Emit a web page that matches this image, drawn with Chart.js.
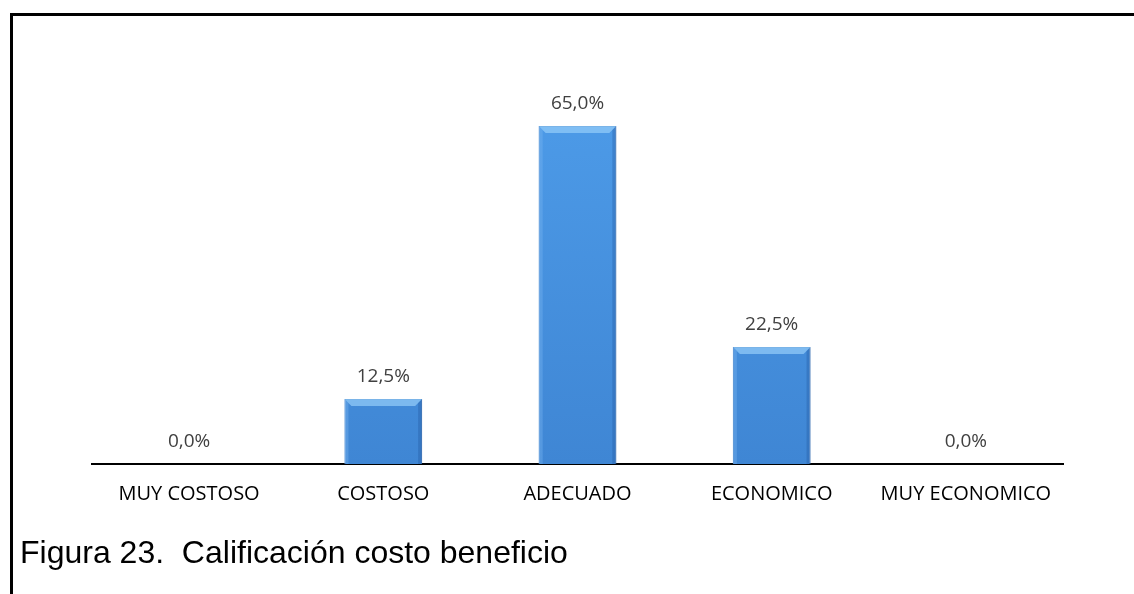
<!DOCTYPE html>
<html>
<head>
<meta charset="utf-8">
<script src="https://cdn.jsdelivr.net/npm/chart.js@4.4.1/dist/chart.umd.min.js"></script>
<style>
  html, body { margin: 0; padding: 0; background: #fff; }
  body { width: 1134px; height: 594px; position: relative; overflow: hidden; }
  #frameTop { position: absolute; left: 10px; top: 13px; width: 1124px; height: 3px; background: #000; }
  #frameLeft { position: absolute; left: 10px; top: 13px; width: 3px; height: 581px; background: #000; }
  #wrap { position: absolute; left: 0; top: 0; width: 1134px; height: 594px; }
  #caption { position: absolute; left: 20px; top: 534px; font-family: "Liberation Sans", Arial, sans-serif;
             font-size: 32px; line-height: 37px; color: #000; white-space: pre; }
</style>
</head>
<body>
<div id="wrap"><canvas id="chart"></canvas></div>
<div id="frameTop"></div>
<div id="frameLeft"></div>
<div id="caption">Figura 23.  Calificación costo beneficio</div>
<script>
var categorias = ['MUY COSTOSO', 'COSTOSO', 'ADECUADO', 'ECONOMICO', 'MUY ECONOMICO'];
var porcentajes = [0, 12.5, 65, 22.5, 0];

function fmt(v) {
    return v.toFixed(1).replace('.', ',') + '%';
}

// etiquetas de valor encima de cada barra
var valueLabels = {
    id: 'valueLabels',
    afterDatasetsDraw: function(chart) {
        var ctx = chart.ctx;
        var meta = chart.getDatasetMeta(0);
        ctx.save();
        ctx.font = '19px "Open Sans", sans-serif';
        ctx.fillStyle = '#404040';
        ctx.textAlign = 'center';
        ctx.textBaseline = 'alphabetic';
        meta.data.forEach(function(bar, i) {
            ctx.fillText(fmt(porcentajes[i]), bar.x, bar.y - 17);
        });
        ctx.restore();
    }
};

// bisel claro arriba y sombra en los lados de cada barra
var bevel = {
    id: 'bevel',
    afterDatasetsDraw: function(chart) {
        var ctx = chart.ctx;
        var meta = chart.getDatasetMeta(0);
        ctx.save();
        meta.data.forEach(function(bar) {
            var h = bar.base - bar.y;
            if (h < 1) return;
            var l = bar.x - bar.width / 2, r = bar.x + bar.width / 2, t = bar.y, b = bar.base;
            var d = 7;
            ctx.fillStyle = 'rgba(150,205,250,0.7)';
            ctx.beginPath();
            ctx.moveTo(l, t); ctx.lineTo(r, t); ctx.lineTo(r - d, t + d); ctx.lineTo(l + d, t + d);
            ctx.closePath(); ctx.fill();
            ctx.fillStyle = 'rgba(30,80,150,0.3)';
            ctx.beginPath();
            ctx.moveTo(r, t); ctx.lineTo(r, b); ctx.lineTo(r - 4, b); ctx.lineTo(r - 4, t + 4);
            ctx.closePath(); ctx.fill();
            ctx.fillStyle = 'rgba(120,180,240,0.4)';
            ctx.beginPath();
            ctx.moveTo(l, t); ctx.lineTo(l + 4, t + 4); ctx.lineTo(l + 4, b); ctx.lineTo(l, b);
            ctx.closePath(); ctx.fill();
        });
        ctx.restore();
    }
};

var ctx = document.getElementById('chart');
var myChart = new Chart(ctx, {
    type: 'bar',
    data: {
        labels: categorias,
        datasets: [{
            label: '',
            data: porcentajes,
            backgroundColor: function(c) {
                var area = c.chart.chartArea;
                if (!area) return '#4a90d9';
                var g = c.chart.ctx.createLinearGradient(0, area.top, 0, area.bottom);
                g.addColorStop(0, '#4d9be8');
                g.addColorStop(1, '#3f86d4');
                return g;
            },
            borderColor: '#3a78bf',
            borderWidth: 1,
            categoryPercentage: 1,
            barPercentage: 0.4
        }]
    },
    options: {
        responsive: true,
        maintainAspectRatio: false,
        animation: false,
        layout: {
            padding: { left: 92, right: 71, top: 100, bottom: 70 }
        },
        plugins: {
            legend: { display: false },
            tooltip: { enabled: false }
        },
        scales: {
            y: {
                display: false,
                min: 0,
                max: 70
            },
            x: {
                grid: { display: false, drawTicks: false },
                border: { display: true, color: '#000', width: 2 },
                ticks: {
                    color: '#000',
                    padding: 18,
                    font: { family: '"Open Sans", sans-serif', size: 20 }
                }
            }
        }
    },
    plugins: [bevel, valueLabels]
});
</script>
</body>
</html>
